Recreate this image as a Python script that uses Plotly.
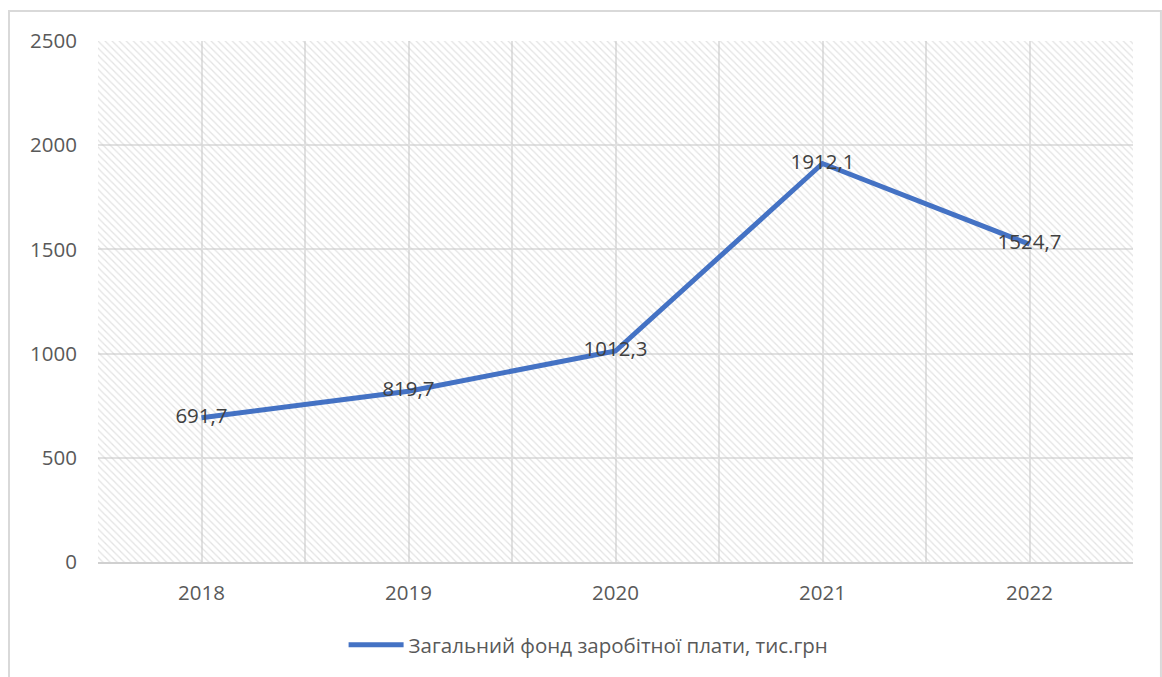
import plotly.graph_objects as go

# Wage fund by year, thousand UAH
years = ["2018", "2019", "2020", "2021", "2022"]
wage_fund = [691.7, 819.7, 1012.3, 1912.1, 1524.7]
series_name = "Загальний фонд заробітної плати, тис.грн"
y_ticks = [0, 500, 1000, 1500, 2000, 2500]

x_pos = list(range(len(years)))
labels = [f"{v:.1f}".replace(".", ",") for v in wage_fund]

x_lo, x_hi = -0.5, len(years) - 0.5
y_lo, y_hi = y_ticks[0], y_ticks[-1]

FONT = "Open Sans"
GRID = "#e1e1e1"

fig = go.Figure()

# Diagonal hatch filling the plot area
fig.add_trace(go.Scatter(
    x=[x_lo, x_hi, x_hi, x_lo, x_lo],
    y=[y_lo, y_lo, y_hi, y_hi, y_lo],
    mode="lines",
    line=dict(width=0),
    fill="toself",
    fillcolor="rgba(0,0,0,0)",
    fillpattern=dict(shape="\\", fgcolor="#c8c8c8", bgcolor="rgba(0,0,0,0)",
                     size=5, solidity=0.25),
    showlegend=False,
    hoverinfo="skip",
))

fig.add_trace(go.Scatter(
    x=x_pos,
    y=wage_fund,
    mode="lines+text",
    name=series_name,
    line=dict(color="#4472C4", width=5),
    text=labels,
    textposition="middle center",
    textfont=dict(family=FONT, size=20.5, color="#404040"),
))

fig.update_layout(
    width=1162,
    height=677,
    margin=dict(l=98, r=29, t=41, b=115),
    paper_bgcolor="white",
    plot_bgcolor="white",
    font=dict(family=FONT, size=20, color="#595959"),
    showlegend=True,
    legend=dict(
        orientation="h",
        x=0.474, xanchor="center",
        y=-0.159, yanchor="middle",
        font=dict(family=FONT, size=20.5, color="#595959"),
        itemwidth=55,
        bgcolor="rgba(0,0,0,0)",
    ),
    xaxis=dict(
        range=[x_lo, x_hi],
        tickmode="array",
        tickvals=x_pos,
        ticktext=years,
        showgrid=True,
        gridcolor=GRID,
        gridwidth=2,
        minor=dict(tickmode="array",
                   tickvals=[p - 0.5 for p in x_pos] + [x_hi],
                   showgrid=True, gridcolor=GRID, gridwidth=2),
        showline=True,
        linecolor="#d0d0d0",
        linewidth=2,
        zeroline=False,
        ticks="",
        ticklabelstandoff=11,
        tickfont=dict(family=FONT, size=20.5, color="#595959"),
    ),
    yaxis=dict(
        range=[y_lo, y_hi],
        tickmode="array",
        tickvals=y_ticks,
        showgrid=True,
        gridcolor=GRID,
        gridwidth=2,
        zeroline=False,
        ticks="",
        ticklabelstandoff=20,
        tickfont=dict(family=FONT, size=20.5, color="#595959"),
    ),
    shapes=[
        # Chart frame
        dict(type="rect", xref="paper", yref="paper",
             x0=-0.086, x1=1.027, y0=-0.3, y1=1.0576,
             line=dict(color="#d9d9d9", width=2), fillcolor="rgba(0,0,0,0)",
             layer="below"),
    ],
)

fig.write_html("out.html")
